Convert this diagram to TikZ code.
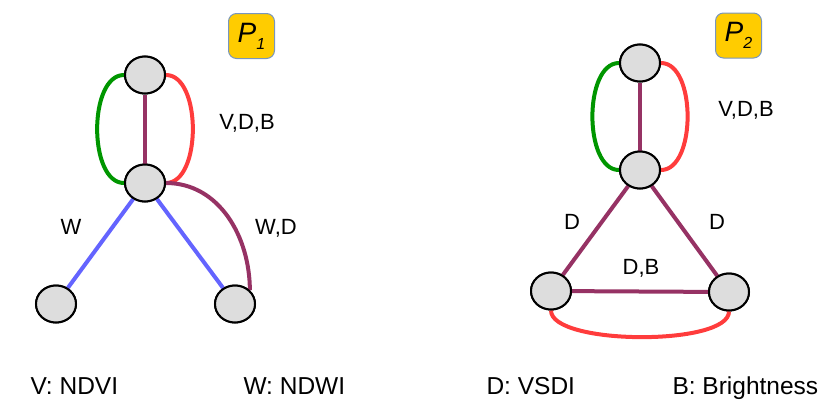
\documentclass[tikz,border=0pt]{standalone}
\usepackage{fontspec}
\setmainfont{Liberation Sans}
\definecolor{vert}{RGB}{0,150,0}
\definecolor{rouge}{RGB}{255,60,60}
\definecolor{violet}{RGB}{150,50,100}
\definecolor{bleu}{RGB}{100,100,255}
\definecolor{gris}{RGB}{221,221,221}
\definecolor{jaune}{RGB}{255,204,0}
\definecolor{cadre}{RGB}{120,150,190}
\tikzset{
  sommet/.style={ellipse, draw=black, line width=2pt, fill=gris, minimum width=40pt, minimum height=37pt, inner sep=0pt},
  arete/.style={line width=4pt},
  boucle/.style={arete, looseness=0.85},
  etiq/.style={anchor=base, font=\fontsize{22}{22}\selectfont},
  legende/.style={anchor=base west, font=\fontsize{24.5}{24.5}\selectfont},
  titre/.style={draw=cadre, line width=1pt, fill=jaune, rounded corners=8pt, minimum width=46pt, minimum height=45pt, inner sep=0pt}
}
\usetikzlibrary{shapes.geometric}
\newcommand{\nomP}[1]{\fontsize{28}{28}\selectfont\textit{P}\raisebox{-7pt}{\fontsize{16}{16}\selectfont\textit{#1}}}
\begin{document}
\begin{tikzpicture}[x=1pt, y=-1pt]
			\useasboundingbox (0,0) rectangle (822,405);
			%Noeuds du premier graphe
			\node[sommet] (H1) at (145,75) {};
			\node[sommet] (M1) at (145,183) {};
			\node[sommet] (G1) at (56,304) {};
			\node[sommet] (D1) at (235,304) {};
			%Noeuds du second graphe
			\node[sommet] (H2) at (640,63) {};
			\node[sommet] (M2) at (640,170) {};
			\node[sommet] (G2) at (551,291) {};
			\node[sommet] (D2) at (729,292) {};
			%Aretes du premier graphe
			\draw[boucle, vert] (H1.west) to[out=180, in=180] (M1.west);
			\draw[boucle, rouge] (H1.east) to[out=0, in=0] (M1.east);
			\draw[arete, violet] (H1) -- (M1);
			\draw[arete, bleu] (M1) -- (G1);
			\draw[arete, bleu] (M1) -- (D1);
			\draw[arete, violet] (M1.east) to[out=0, in=90] (D1.north east);
			%Aretes du second graphe
			\draw[boucle, vert] (H2.west) to[out=180, in=180] (M2.west);
			\draw[boucle, rouge] (H2.east) to[out=0, in=0] (M2.east);
			\draw[arete, violet] (H2) -- (M2);
			\draw[arete, violet] (M2) -- (G2);
			\draw[arete, violet] (M2) -- (D2);
			\draw[arete, violet] (G2) -- (D2);
			\draw[arete, rouge] (G2.south) to[out=-90, in=-90, looseness=0.5] (D2.south);
			%Sommets redessines par-dessus
			\foreach \s in {H1,M1,G1,D1,H2,M2,G2,D2}
				\node[sommet] at (\s) {};
			%Etiquettes
			\node[etiq] (L1) at (247,129) {V,D,B};
			\node[etiq] (L2) at (71,234) {W};
			\node[etiq] (L3) at (276,234) {W,D};
			\node[etiq] (L4) at (746,116) {V,D,B};
			\node[etiq] (L5) at (572,229) {D};
			\node[etiq] (L6) at (717,229) {D};
			\node[etiq] (L7) at (641,274) {D,B};
			%Titres
			\node[titre] (P1) at (251.5,36) {\nomP{1}};
			\node[titre] (P2) at (738.5,35.5) {\nomP{2}};
			%Legende
			\node[legende] (V) at (27,394) {V: NDVI};
			\node[legende] (W) at (240,394) {W: NDWI};
			\node[legende] (D) at (483,394) {D: VSDI};
			\node[legende] (B) at (669,394) {B: Brightness};
		\end{tikzpicture}
\end{document}
